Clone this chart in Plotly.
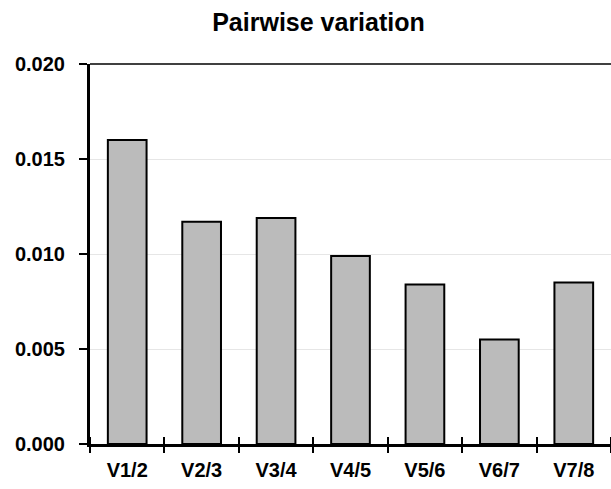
import plotly.graph_objects as go

categories = ["V1/2", "V2/3", "V3/4", "V4/5", "V5/6", "V6/7", "V7/8"]
values = [0.0160, 0.0117, 0.0119, 0.0099, 0.0084, 0.0055, 0.0085]
y_ticks = [0.000, 0.005, 0.010, 0.015, 0.020]

font_family = "Liberation Sans, Arial, sans-serif"

fig = go.Figure()
fig.add_trace(go.Bar(
    x=categories, y=values,
    marker=dict(color="#bbbbbb", line=dict(color="black", width=2)),
    width=0.52,
    showlegend=False,
))
# invisible trace to carry an overlaid axis for tick marks crossing the x axis line
fig.add_trace(go.Scatter(x=categories, y=values, xaxis="x2", yaxis="y", mode="markers",
                         marker=dict(opacity=0), hoverinfo="skip", showlegend=False))

fig.update_layout(
    width=611, height=489,
    margin=dict(l=90, r=0, t=64, b=45, autoexpand=False),
    paper_bgcolor="white", plot_bgcolor="white",
    title=dict(text="Pairwise variation", x=318.5 / 611, xref="container", xanchor="center",
               y=1 - 13 / 489, yref="container", yanchor="top",
               font=dict(family=font_family, size=25, color="black", weight="bold")),
    font=dict(family=font_family, color="black"),
    xaxis=dict(
        type="category", range=[-0.5, 6.5], automargin=False,
        showline=True, linecolor="black", linewidth=3,
        ticks="", tickson="boundaries", ticklabelstandoff=6,
        tickfont=dict(family=font_family, size=20, color="black", weight="bold"),
        showgrid=False, zeroline=False,
    ),
    xaxis2=dict(
        type="category", overlaying="x", anchor="free", position=8 / 380, side="bottom",
        range=[-0.5, 6.5], automargin=False,
        categoryorder="array", categoryarray=categories,
        showline=False, ticks="outside", ticklen=16, tickwidth=2, tickcolor="black",
        tickson="boundaries", showticklabels=False, showgrid=False, zeroline=False,
    ),
    yaxis=dict(
        range=[0, 0.02], tickvals=y_ticks, tickformat=".3f", automargin=False,
        showline=True, linecolor="black", linewidth=3,
        ticks="outside", ticklen=8, tickwidth=2, tickcolor="black",
        ticklabelstandoff=10,
        tickfont=dict(family=font_family, size=20, color="black", weight="bold"),
        showgrid=True, gridcolor="#e6e6e6", gridwidth=1, zeroline=False,
    ),
    shapes=[dict(type="line", xref="paper", yref="paper", x0=0, x1=1, y0=1, y1=1,
                 line=dict(color="black", width=1.5))],
    bargap=0.48,
)

fig.write_html("out.html", config={"displayModeBar": False},
               post_script="document.body.style.margin='0';")
